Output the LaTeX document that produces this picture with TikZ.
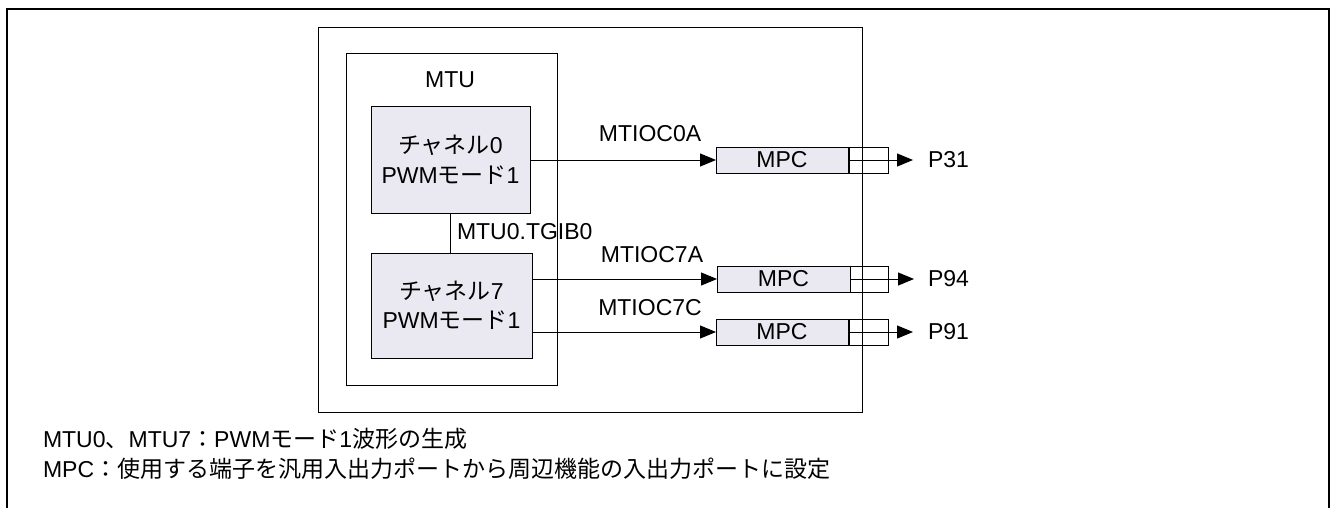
\documentclass[tikz,border=0pt]{standalone}
\usepackage{fontspec}
\setmainfont{Liberation Sans}
\newfontfamily\jp{Noto Sans CJK JP}
\usetikzlibrary{arrows.meta}
\definecolor{chfill}{RGB}{234,232,240}
\begin{document}
\begin{tikzpicture}[x=1pt,y=-1pt,
  box/.style={draw=black, line width=1pt, inner sep=0pt, outer sep=0pt, anchor=north west},
  filled/.style={box, fill=chfill},
  lbl/.style={font=\fontsize{23}{29.5}\selectfont, inner sep=0pt, outer sep=0pt},
  arr/.style={-{Triangle[length=16pt,width=13pt]}, line width=1pt},
  plain/.style={line width=1pt}]
\useasboundingbox (0,0) rectangle (1332,508);
% outer frame
\draw[line width=2pt] (7,508) -- (7,9) -- (1329,9) -- (1329,508);
% chip and MTU
\node[box, minimum width=544pt, minimum height=384pt] (chip) at (318,28) {};
\node[box, minimum width=211pt, minimum height=331pt] (mtu) at (346,54) {};
\node[lbl] (mtulbl) at (450,80) {MTU};
% channels
\node[filled, minimum width=159pt, minimum height=106pt, lbl, align=center] (ch0) at (371,107)
  {{\jp チャネル}0\\PWM{\jp モード}1};
\node[filled, minimum width=161pt, minimum height=105pt, lbl, align=center] (ch7) at (371,253)
  {{\jp チャネル}7\\PWM{\jp モード}1};
\draw[plain] (ch0.south) -- (ch0.south |- ch7.north);
\node[lbl, anchor=west] (tgib) at (457,232) {MTU0.TGIB0};
% MPC boxes
\node[filled, lbl, minimum width=132pt, minimum height=26pt] (mpc1) at (716,147) {MPC};
\node[filled, lbl, minimum width=133pt, minimum height=26pt] (mpc2) at (717,266) {MPC};
\node[filled, lbl, minimum width=132pt, minimum height=26pt] (mpc3) at (716,319) {MPC};
% pin boxes
\node[box, minimum width=39pt, minimum height=26pt] (pin1) at (849,147) {};
\node[box, minimum width=38pt, minimum height=26pt] (pin2) at (850,266) {};
\node[box, minimum width=39pt, minimum height=26pt] (pin3) at (849,319) {};
% signals
\draw[arr] (ch0.east |- mpc1.west) -- (mpc1.west);
\draw[arr] (ch7.east |- mpc2.west) -- (mpc2.west);
\draw[arr] (ch7.east |- mpc3.west) -- (mpc3.west);
\node[lbl] (s1) at (650,134) {MTIOC0A};
\node[lbl] (s2) at (652,255) {MTIOC7A};
\node[lbl] (s3) at (650,308) {MTIOC7C};
% ports
\coordinate (t1) at (913,160);
\coordinate (t2) at (914,279);
\coordinate (t3) at (913,332);
\draw[arr] (mpc1.east) -- (t1);
\draw[arr] (mpc2.east) -- (t2);
\draw[arr] (mpc3.east) -- (t3);
\node[lbl, anchor=west] (p31) at (928,160) {P31};
\node[lbl, anchor=west] (p94) at (928,279) {P94};
\node[lbl, anchor=west] (p91) at (928,332) {P91};
% notes
\node[lbl, anchor=base west] (n1) at (43,447) {MTU0{\jp 、}MTU7{\jp ：}PWM{\jp モード}1{\jp 波形の生成}};
\node[lbl, anchor=base west] (n2) at (43,477) {MPC{\jp ：使用する端子を汎用入出力ポートから周辺機能の入出力ポートに設定}};
\end{tikzpicture}
\end{document}
